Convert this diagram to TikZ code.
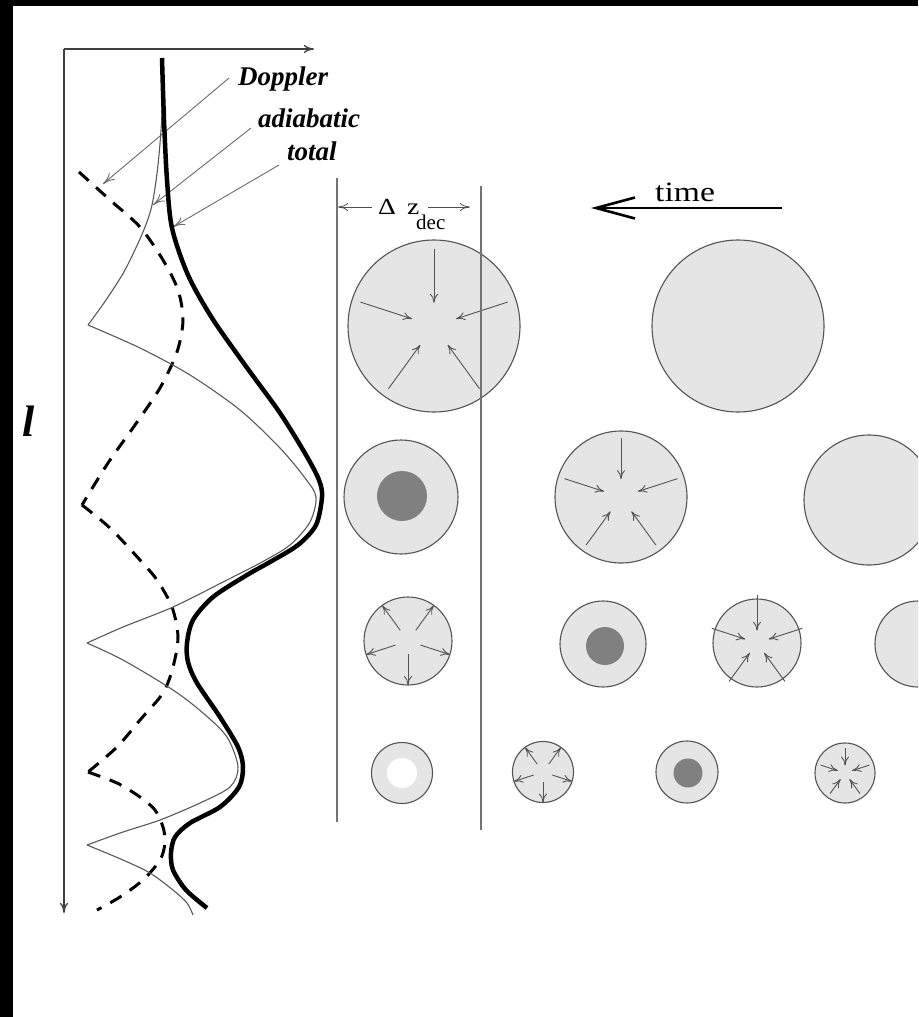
\documentclass[tikz,border=0pt]{standalone}
\usepackage{fontspec}
\setmainfont{Liberation Serif}
\newfontfamily\stretchserif[FakeStretch=1.2]{Liberation Serif}
\usetikzlibrary{arrows.meta,calc}
\definecolor{discfill}{gray}{0.9}
\definecolor{discedge}{gray}{0.33}
\definecolor{coregray}{gray}{0.5}
\definecolor{guide}{gray}{0.42}
\definecolor{barline}{gray}{0.45}
\tikzset{
  disc/.style={circle, draw=discedge, fill=discfill, line width=1.1pt, inner sep=0pt},
  core/.style={circle, fill=coregray, inner sep=0pt},
  hole/.style={circle, fill=white, inner sep=0pt},
  flowarr/.style={draw=discedge, line width=0.9pt, -{To[length=9pt,width=8pt]}},
  leader/.style={draw=guide, line width=0.9pt, -{To[length=12pt,width=9pt]}},
  axisline/.style={draw=black!75, line width=1.3pt, -{To[length=10pt,width=8pt]}},
  spanarr/.style={draw=black!70, line width=0.8pt, -{To[length=10pt,width=8pt]}},
  curvelbl/.style={font=\bfseries\itshape\fontsize{27}{30}\selectfont, inner sep=0pt, anchor=base west},
  plainlbl/.style={font=\stretchserif\fontsize{23}{25}\selectfont, inner sep=0pt, anchor=base west},
  adiab/.style={draw=black!65, line width=1.1pt},
  doppler/.style={draw=black, line width=3pt, dash pattern=on 13pt off 10pt},
  totalc/.style={draw=black, line width=4.5pt},
  zbar/.style={draw=barline, line width=1.4pt},
}
% five arrows converging on (or spreading from) the centre of a disc
\newcommand\discin[5]{%
  \foreach \k in {0,...,4}{%
    \pgfmathsetmacro\ang{#3+72*\k}%
    \pgfmathsetmacro\ro{#4*#2}%
    \pgfmathsetmacro\ri{#5*#2}%
    \draw[flowarr] ($(#1)+(\ang:\ro pt)$) -- ($(#1)+(\ang:\ri pt)$);}}
\newcommand\discout[5]{%
  \foreach \k in {0,...,4}{%
    \pgfmathsetmacro\ang{#3+72*\k}%
    \pgfmathsetmacro\ro{#4*#2}%
    \pgfmathsetmacro\ri{#5*#2}%
    \draw[flowarr] ($(#1)+(\ang:\ri pt)$) -- ($(#1)+(\ang:\ro pt)$);}}
\begin{document}
\begin{tikzpicture}[x=1pt,y=-1pt]
\useasboundingbox (0,0) rectangle (918,1017);
\fill[black] (0,0) rectangle (918,1017);
\fill[white] (13,6) rectangle (918,1017);
\clip (0,0) rectangle (918,1017);

% ---- power spectrum axes ----
\coordinate (origin) at (64,49);
\coordinate (xend) at (314,49);
\coordinate (yend) at (64,913);
\draw[axisline] (origin) -- (xend);
\draw[axisline] (origin) -- (yend);
\node[font=\bfseries\itshape\fontsize{44}{48}\selectfont, inner sep=0pt, anchor=base] (ell) at (29,436) {l};

% ---- curve labels ----
\node[curvelbl] (dop) at (238,85) {Doppler};
\node[curvelbl] (adi) at (258,127) {adiabatic};
\node[curvelbl] (tot) at (287,160) {total};
\coordinate (dopfrom) at (229,78);   \coordinate (dopto) at (103,184);
\coordinate (adifrom) at (251,128);  \coordinate (adito) at (153,205);
\coordinate (totfrom) at (279,165);  \coordinate (totto) at (173,227);
\draw[leader] (dopfrom) -- (dopto);
\draw[leader] (adifrom) -- (adito);
\draw[leader] (totfrom) -- (totto);

% ---- Doppler contribution ----
\draw[doppler] plot[smooth] coordinates {(79,172) (110,200) (140,227) (163,260) (178,290) (183,320) (177,352) (160,388) (135,425) (108,463) (82,505)};
\draw[doppler] plot[smooth] coordinates {(82,505) (110,528) (140,560) (157,580) (172,607) (178,637) (173,667) (163,693) (140,720) (117,747) (88,772)};
\draw[doppler] plot[smooth] coordinates {(88,772) (117,783) (140,797) (155,810) (163,827) (165,843) (160,860) (143,880) (120,897) (97,910)};

% ---- adiabatic contribution ----
\draw[adiab] plot[smooth] coordinates {(162,58) (162,113) (158,165) (152,205) (143,232) (125,270) (106,300) (88,325)};
\draw[adiab] plot[smooth] coordinates {(88,325) (140,348) (190,375) (240,410) (280,448) (305,478) (316,497) (310,522) (290,545) (262,562) (227,580) (173,607) (123,627) (87,643)};
\draw[adiab] plot[smooth] coordinates {(87,643) (123,660) (173,690) (203,713) (227,737) (238,767) (230,787) (200,803) (160,820) (123,832) (87,845)};
\draw[adiab] plot[smooth] coordinates {(87,845) (123,860) (150,873) (173,890) (187,903) (193,915)};

% ---- total ----
\draw[totalc] plot[smooth] coordinates {(162,58) (164,120) (167,180) (172,228) (188,275) (212,318) (245,365) (280,413) (306,455) (319,480) (322,497) (316,525) (298,545) (270,562) (247,575) (213,597) (193,620) (187,643) (188,662) (197,683) (220,717) (238,747) (243,767) (239,787) (220,807) (190,823) (175,837) (171,853) (173,870) (186,890) (207,908)};

% ---- discs, row by row ----
\node[disc, minimum size=172pt] (c11) at (434,326) {};
\node[disc, minimum size=172pt] (c12) at (738,326) {};
\discin{c11}{86}{90}{0.9}{0.27}

\node[disc, minimum size=114pt] (c21) at (401,497) {};
\node[core, minimum size=50pt] (k21) at (402,496) {};
\node[disc, minimum size=132pt] (c22) at (621,497) {};
\node[disc, minimum size=130pt] (c23) at (869,500) {};
\discin{c22}{66}{90}{0.9}{0.27}

\node[disc, minimum size=88pt] (c31) at (408,641) {};
\node[disc, minimum size=86pt] (c32) at (603,644) {};
\node[core, minimum size=38pt] (k32) at (605,646) {};
\node[disc, minimum size=88pt] (c33) at (757,643) {};
\node[disc, minimum size=86pt] (c34) at (918,644) {};
\discout{c31}{44}{270}{1.0}{0.3}
\discin{c33}{44}{90}{1.08}{0.28}

\node[disc, minimum size=61pt] (c41) at (402,773) {};
\node[hole, minimum size=30pt] (k41) at (402,773) {};
\node[disc, minimum size=61pt] (c42) at (543,772) {};
\node[disc, minimum size=62pt] (c43) at (687,772) {};
\node[core, minimum size=29pt] (k43) at (688,773) {};
\node[disc, minimum size=60pt] (c44) at (845,773) {};
\discout{c42}{30.5}{270}{1.0}{0.32}
\discin{c44}{30}{90}{0.85}{0.25}

% ---- decoupling interval ----
\coordinate (zl0) at (337,178); \coordinate (zl1) at (337,822);
\coordinate (zr0) at (481,186); \coordinate (zr1) at (481,830);
\draw[zbar] (zl0) -- (zl1);
\draw[zbar] (zr0) -- (zr1);
\node[plainlbl] (dlt) at (378,214) {Δ};
\node[plainlbl] (zz) at (407,214) {z};
\node[plainlbl, font=\fontsize{21}{23}\selectfont] (dec) at (416,229) {dec};
\coordinate (spl0) at (372,207); \coordinate (spl1) at (338,207);
\coordinate (spr0) at (428,207); \coordinate (spr1) at (470,207);
\draw[spanarr] (spl0) -- (spl1);
\draw[spanarr] (spr0) -- (spr1);

% ---- time direction ----
\node[font=\stretchserif\fontsize{28}{30}\selectfont, inner sep=0pt, anchor=base west] (timelbl) at (655,201) {time};
\coordinate (tfrom) at (782,208);
\coordinate (tto) at (591,208);
\draw[line width=2.6pt, -{Straight Barb[length=39pt,width=21pt]}] (tfrom) -- (tto);
\end{tikzpicture}
\end{document}
